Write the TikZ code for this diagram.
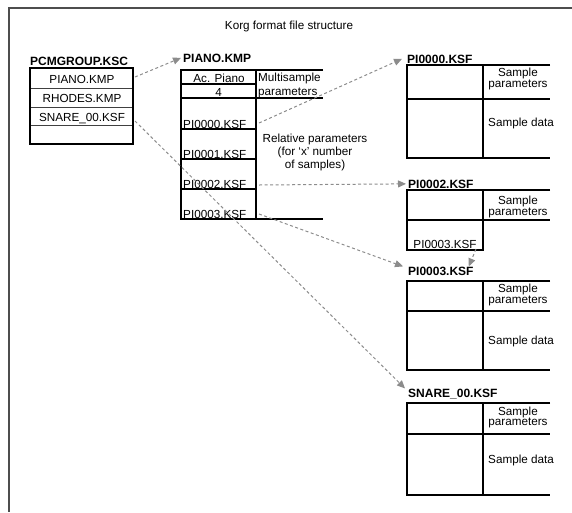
\documentclass[tikz,border=0pt]{standalone}
\usepackage{fontspec}
\setmainfont{Liberation Sans}
\usetikzlibrary{arrows.meta}
\definecolor{arrgray}{HTML}{8C8C8C}
\definecolor{framegray}{HTML}{4D4D4D}
\begin{document}
\begin{tikzpicture}[x=1pt,y=-1pt,
  txt/.style={inner sep=0pt, anchor=base, font=\fontsize{11.7}{13}\selectfont},
  txtw/.style={txt, anchor=base west},
  lbl/.style={inner sep=0pt, anchor=base west, font=\fontsize{12}{14}\selectfont\bfseries},
  arr/.style={draw=arrgray, line width=1pt, dash pattern=on 3pt off 2.5pt,
    -{Triangle[length=8pt,width=7pt,fill=arrgray]}},
  bx/.style={line width=1.2pt, draw=black},
  sep/.style={line width=1pt, draw=black!75}]
\useasboundingbox (0,0) rectangle (572,512);
% outer frame (clipped at right and bottom)
\draw[framegray, line width=1.6pt] (572,8) -- (9,8) -- (9,512);
\node[txt] (title) at (289,29) {Korg format file structure};

% PCMGROUP.KSC
\node[lbl] (lpcm) at (30,65) {PCMGROUP.KSC};
\draw[sep] (30,88) -- (133,88) (30,107) -- (133,107) (30,125) -- (133,125);
\draw[bx] (30,68) rectangle (133,144);
\node[txt] (pcm1) at (82,83) {PIANO.KMP};
\node[txt] (pcm2) at (82,102) {RHODES.KMP};
\node[txt] (pcm3) at (82,121) {SNARE\_00.KSF};

% PIANO.KMP
\node[lbl] (lpiano) at (183,62) {PIANO.KMP};
\draw[bx] (323,70) -- (181,70) -- (181,219) -- (323,219);
\draw[bx] (256,70) -- (256,219);
\draw[bx] (181,98) -- (323,98);
\draw[bx] (181,84) -- (256,84);
\draw[bx] (181,129) -- (256,129) (181,159) -- (256,159) (181,189) -- (256,189);
\node[txt] (acp) at (219,82) {Ac. Piano};
\node[txt] (four) at (218.5,96) {4};
\node[txtw] (k0) at (183,128) {PI0000.KSF};
\node[txtw] (k1) at (183,158) {PI0001.KSF};
\node[txtw] (k2) at (183,188) {PI0002.KSF};
\node[txtw] (k3) at (183,218) {PI0003.KSF};
\node[txtw] (ms1) at (258,81) {Multisample};
\node[txtw] (ms2) at (258,95) {parameters};
\node[txt] (rel1) at (315,142) {Relative parameters};
\node[txt] (rel2) at (315,155) {(for ‘x’ number};
\node[txt] (rel3) at (315,168) {of samples)};

% PI0000.KSF
\node[lbl] (lpi0) at (407,63) {PI0000.KSF};
\draw[bx] (550,65) -- (407,65) -- (407,158) -- (550,158);
\draw[bx] (483,65) -- (483,158);
\draw[bx] (407,99) -- (550,99);
\node[txt] (s0a) at (518,76) {Sample};
\node[txt] (s0b) at (518,87) {parameters};
\node[txtw] (d0) at (488,126) {Sample data};

% PI0002.KSF
\node[lbl] (lpi2) at (408,188) {PI0002.KSF};
\draw[bx] (550,190) -- (407,190) -- (407,250) -- (483,250) -- (483,190);
\draw[bx] (407,220) -- (550,220);
\node[txt] (s2a) at (518,204) {Sample};
\node[txt] (s2b) at (518,215) {parameters};
\node[txt] (k3b) at (445,248) {PI0003.KSF};

% PI0003.KSF
\node[lbl] (lpi3) at (408,275) {PI0003.KSF};
\draw[bx] (550,281) -- (407,281) -- (407,370) -- (550,370);
\draw[bx] (483,281) -- (483,370);
\draw[bx] (407,311) -- (550,311);
\node[txt] (s3a) at (518,292.5) {Sample};
\node[txt] (s3b) at (518,303) {parameters};
\node[txtw] (d3) at (488,344) {Sample data};

% SNARE_00.KSF
\node[lbl] (lsn) at (408,397) {SNARE\_00.KSF};
\draw[bx] (550,403) -- (407,403) -- (407,495) -- (550,495);
\draw[bx] (483,403) -- (483,495);
\draw[bx] (407,434) -- (550,434);
\node[txt] (s4a) at (518,415) {Sample};
\node[txt] (s4b) at (518,425.5) {parameters};
\node[txtw] (d4) at (488,463) {Sample data};

% connectors
\coordinate (c1) at (135,77);
\coordinate (c2) at (135,121);
\coordinate (c3) at (259,123);
\coordinate (c4) at (259,185);
\coordinate (c5) at (259,214);
\coordinate (c6) at (476,249);
\draw[arr] (c1) -- ([xshift=-2pt]lpiano.west);
\draw[arr] (c2) -- ([xshift=-3pt]lsn.north west);
\draw[arr] (c3) -- ([xshift=-5pt]lpi0.west);
\draw[arr] (c4) -- ([xshift=-2pt]lpi2.west);
\draw[arr] (c5) -- ([xshift=-5pt]lpi3.north west);
\draw[arr] (c6) -- ([xshift=-5pt]lpi3.north east);
\end{tikzpicture}
\end{document}
